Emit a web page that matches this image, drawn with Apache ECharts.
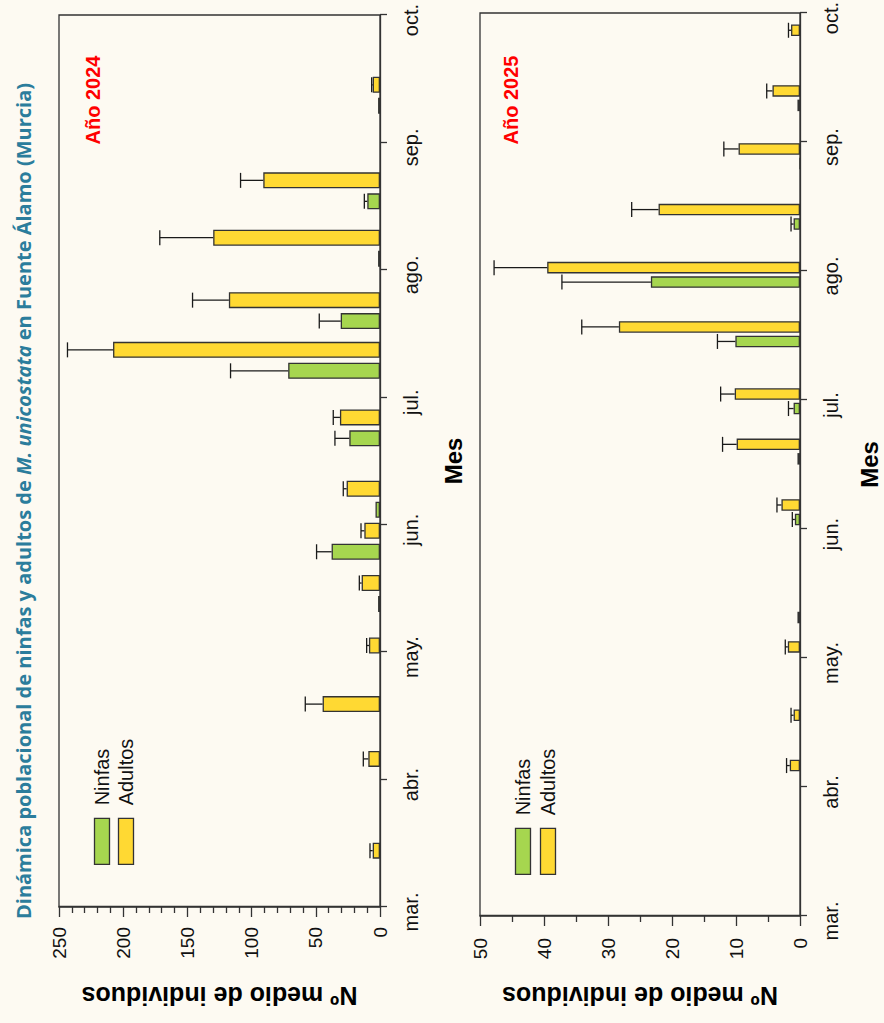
<!DOCTYPE html>
<html>
<head>
<meta charset="utf-8">
<script src="https://cdn.jsdelivr.net/npm/echarts@6/dist/echarts.min.js"></script>
<style>
  html, body { margin: 0; padding: 0; width: 884px; height: 1023px; overflow: hidden; background: #fdfaf2; }
  /* the figure is laid out landscape and turned a quarter turn counter-clockwise */
  #chart { position: absolute; left: 0; top: 0; width: 1023px; height: 884px;
           transform-origin: 0 0; transform: translateY(1023px) rotate(-90deg); }
</style>
</head>
<body>
<div id="chart"></div>
<script>
// Month tick labels; the date axis runs from 3 (1 March) to 10 (1 October)
const MONTH_LABELS = ['mar.', 'abr.', 'may.', 'jun.', 'jul.', 'ago.', 'sep.', 'oct.'];
const FIRST_MONTH = 3;
const LAST_MONTH = 10;

// 2024 sampling dates (fractional month) and mean counts with their error (SD)
const SAMPLE_DATES_2024 = [3.36, 4.08, 4.51, 4.97, 5.46, 5.87, 6.20, 6.76, 7.29, 7.68, 8.17, 8.62, 9.37];
const NINFAS_2024       = [null, null, null, null, 1.5, 37.7, 3.5, 23.9, 71.5, 30.6, 1.5, 9.9, 1.5];
const NINFAS_ERR_2024   = [null, null, null, null, 0, 11.7, 0, 11.2, 44.9, 16.7, 0, 2.3, 0];
const ADULTOS_2024      = [5.7, 9.1, 44.7, 8.6, 14.3, 12.2, 26.0, 31.2, 207.9, 117.7, 129.9, 90.9, 5.7];
const ADULTOS_ERR_2024  = [2.1, 3.9, 13.5, 1.8, 1.8, 2.6, 2.6, 5.2, 35.5, 28.3, 41.6, 17.7, 0.8];

// 2025 sampling dates and mean counts
const SAMPLE_DATES_2025 = [4.11, 4.50, 5.03, 5.37, 6.13, 6.60, 6.99, 7.51, 7.97, 8.42, 8.89, 9.34, 9.81];
const NINFAS_2025       = [null, null, null, 0.4, 0.8, 0.4, 1.0, 10.1, 23.3, 1.0, 0, 0.4, null];
const NINFAS_ERR_2025   = [null, null, null, 0, 0.4, 0, 0.8, 2.8, 13.9, 0.4, 0, 0, null];
const ADULTOS_2025      = [1.6, 1.0, 1.9, null, 2.9, 9.9, 10.2, 28.3, 39.5, 22.1, 9.6, 4.3, 1.4];
const ADULTOS_ERR_2025  = [0.5, 0.4, 0.4, null, 0.7, 2.2, 2.2, 5.8, 8.3, 4.2, 2.3, 0.9, 0.4];

// Value axis ranges / ticks per panel
const Y_MAX = [250, 50];
const Y_INTERVAL = [50, 10];
const Y_MINOR_SPLIT = [5, 2];

const COLOR_NINFAS = '#a6d64f';
const COLOR_ADULTOS = '#ffd933';
const EDGE = '#333333';
const FONT = '"Liberation Sans", Arial, sans-serif';

const PANELS = [
  { dates: SAMPLE_DATES_2024, ninfas: NINFAS_2024, ninfasErr: NINFAS_ERR_2024,
    adultos: ADULTOS_2024, adultosErr: ADULTOS_ERR_2024,
    barWidth: 16, barGap: 0.31,
    grid: { left: 116, right: 15, top: 59, height: 321 },
    legend: { left: 158, top: 92, itemGap: 4 }, yNameGap: 76, yLabelMargin: 20, xNameGap: 61 },
  { dates: SAMPLE_DATES_2025, ninfas: NINFAS_2025, ninfasErr: NINFAS_ERR_2025,
    adultos: ADULTOS_2025, adultosErr: ADULTOS_ERR_2025,
    barWidth: 11.5, barGap: 0.26,
    grid: { left: 107, right: 13, top: 480, height: 320 },
    legend: { left: 148, top: 513, itemGap: 5 }, yNameGap: 67, yLabelMargin: 22, xNameGap: 57 }
];
const CAP = 15;

function pairs(dates, vals) {
  return dates.map((d, i) => vals[i] == null ? null : [d, vals[i]]).filter(Boolean);
}
function errTriples(dates, vals, errs) {
  return dates.map((d, i) => (vals[i] != null && errs[i]) ? [d, vals[i], errs[i]] : null).filter(Boolean);
}
function errorSeries(idx, data, offset) {
  return {
    type: 'custom', xAxisIndex: idx, yAxisIndex: idx, silent: true, z: 3,
    encode: { x: 0, y: 1 },
    data: data,
    renderItem: function (params, api) {
      const x = api.value(0), v = api.value(1), e = api.value(2);
      const base = api.coord([x, v]);
      const tip = api.coord([x, v + e]);
      const cx = base[0] + offset;
      const style = { stroke: '#1a1a1a', lineWidth: 1.3 };
      return { type: 'group', children: [
        { type: 'line', shape: { x1: cx, y1: base[1], x2: cx, y2: tip[1] }, style: style },
        { type: 'line', shape: { x1: cx - CAP / 2, y1: tip[1], x2: cx + CAP / 2, y2: tip[1] }, style: style }
      ] };
    }
  };
}

const axisLineStyle = { color: EDGE, width: 1.3 };
const option = {
  backgroundColor: '#fdfaf2',
  animation: false,
  grid: PANELS.map(p => Object.assign({
    show: true, borderColor: EDGE, borderWidth: 1.3, backgroundColor: 'transparent',
    containLabel: false, outerBoundsMode: 'none'
  }, p.grid)),
  xAxis: PANELS.map((p, i) => ({
    type: 'value', gridIndex: i, min: FIRST_MONTH, max: LAST_MONTH, interval: 1,
    axisLine: { show: true, onZero: false, lineStyle: axisLineStyle },
    axisTick: { show: true, inside: false, length: 7, lineStyle: axisLineStyle },
    axisLabel: { show: true, showMinLabel: true, showMaxLabel: true, margin: 21,
      fontSize: 20, fontFamily: FONT, color: '#111', padding: [0, 10, 0, 0],
      formatter: v => MONTH_LABELS[Math.round(v) - FIRST_MONTH] },
    splitLine: { show: false },
    name: 'Mes', nameLocation: 'middle', nameGap: p.xNameGap,
    nameTextStyle: { fontSize: 24, fontWeight: 'bold', fontFamily: FONT, color: '#000' }
  })),
  yAxis: PANELS.map((p, i) => ({
    type: 'value', gridIndex: i, min: 0, max: Y_MAX[i], interval: Y_INTERVAL[i],
    axisLine: { show: true, lineStyle: axisLineStyle },
    axisTick: { show: true, inside: false, length: 10, lineStyle: axisLineStyle },
    minorTick: { show: true, splitNumber: Y_MINOR_SPLIT[i], length: 6, lineStyle: axisLineStyle },
    axisLabel: { margin: p.yLabelMargin, fontSize: 19, fontFamily: FONT, color: '#111' },
    splitLine: { show: false },
    minorSplitLine: { show: false },
    name: 'N\u00BA medio de individuos', nameLocation: 'middle', nameRotate: 90, nameGap: p.yNameGap,
    nameTextStyle: { fontSize: 25, fontWeight: 'bold', fontFamily: FONT, color: '#000' }
  })),
  legend: PANELS.map(p => ({
    data: ['Ninfas', 'Adultos'], orient: 'vertical', left: p.legend.left, top: p.legend.top,
    padding: 0, itemGap: p.legend.itemGap, itemWidth: 46, itemHeight: 15, icon: 'rect',
    selectedMode: false,
    itemStyle: { borderColor: EDGE, borderWidth: 1.3 },
    textStyle: { fontSize: 20, fontFamily: FONT, color: '#111', padding: [0, 0, 0, 8] }
  })),
  graphic: [
    { type: 'text', x: 522, y: 23, silent: true,
      style: {
        text: '{a|Din\u00E1mica poblacional de ninfas y adultos de }{b|M. unicostata}{a| en Fuente \u00C1lamo (Murcia)}',
        textAlign: 'center', textVerticalAlign: 'middle',
        rich: {
          a: { fontFamily: '"Open Sans", sans-serif', fontWeight: 'bold', fontSize: 20, fill: '#2b7d9c' },
          b: { fontFamily: '"Open Sans", sans-serif', fontWeight: 'bold', fontStyle: 'italic', fontSize: 20, fill: '#2b7d9c' }
        }
      } },
    { type: 'text', x: 923, y: 93, silent: true,
      style: { text: 'A\u00F1o 2024', textAlign: 'center', textVerticalAlign: 'middle',
        font: 'bold 20px ' + FONT, fill: '#ff0000' } },
    { type: 'text', x: 923, y: 511, silent: true,
      style: { text: 'A\u00F1o 2025', textAlign: 'center', textVerticalAlign: 'middle',
        font: 'bold 20px ' + FONT, fill: '#ff0000' } }
  ],
  series: []
};

PANELS.forEach((p, i) => {
  const shift = p.barWidth * (1 + p.barGap) / 2;
  option.series.push({
    name: 'Ninfas', type: 'bar', xAxisIndex: i, yAxisIndex: i,
    barWidth: p.barWidth, barGap: Math.round(p.barGap * 100) + '%',
    itemStyle: { color: COLOR_NINFAS, borderColor: EDGE, borderWidth: 1.3 },
    data: pairs(p.dates, p.ninfas)
  });
  option.series.push({
    name: 'Adultos', type: 'bar', xAxisIndex: i, yAxisIndex: i,
    barWidth: p.barWidth, barGap: Math.round(p.barGap * 100) + '%',
    itemStyle: { color: COLOR_ADULTOS, borderColor: EDGE, borderWidth: 1.3 },
    data: pairs(p.dates, p.adultos)
  });
  option.series.push(errorSeries(i, errTriples(p.dates, p.ninfas, p.ninfasErr), -shift));
  option.series.push(errorSeries(i, errTriples(p.dates, p.adultos, p.adultosErr), shift));
});

const chart = echarts.init(document.getElementById('chart'), null, { renderer: 'svg', width: 1023, height: 884 });
chart.setOption(option);
</script>
</body>
</html>
